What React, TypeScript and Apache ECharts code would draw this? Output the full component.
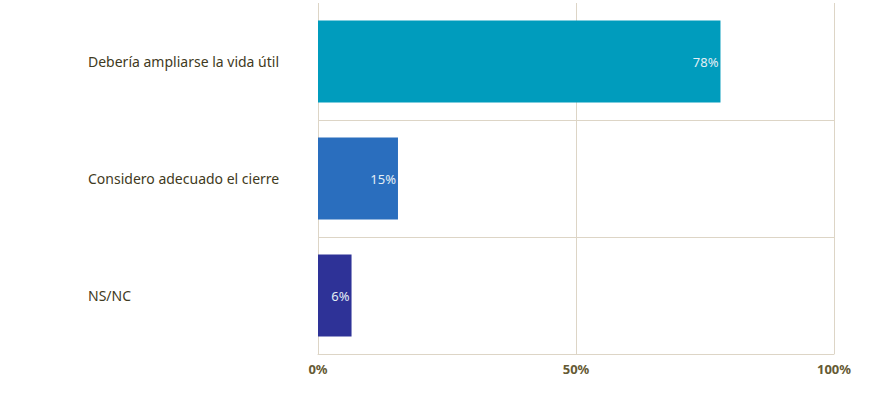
import React, { useEffect, useRef } from "react";
import * as echarts from "echarts";

const categories = [
  "Debería ampliarse la vida útil",
  "Considero adecuado el cierre",
  "NS/NC",
];
const values = [78, 15.5, 6.5];
const barColors = ["#009cbd", "#2a6ebe", "#2e3297"];
const xTicks = [0, 50, 100];

export default function App() {
  const ref = useRef<HTMLDivElement>(null);
  useEffect(() => {
    if (!ref.current) return;
    const chart = echarts.init(ref.current, null, { renderer: "svg" });
    const grid = "#ddd5c6";
    chart.setOption({
      animation: false,
      backgroundColor: "#ffffff",
      grid: { left: 318, right: 49, top: 3, bottom: 55, containLabel: false },
      xAxis: {
        type: "value",
        min: xTicks[0],
        max: xTicks[xTicks.length - 1],
        interval: xTicks[1] - xTicks[0],
        axisLine: { show: true, lineStyle: { color: grid, width: 1 } },
        axisTick: { show: false },
        splitLine: { show: true, lineStyle: { color: grid, width: 1 } },
        axisLabel: {
          formatter: "{value}%",
          color: "#655a34",
          fontFamily: "Noto Sans",
          fontSize: 13,
          fontWeight: "bold",
          margin: 8,
        },
      },
      yAxis: {
        type: "category",
        inverse: true,
        data: categories,
        axisLine: { show: false },
        axisTick: { show: false },
        splitLine: {
          show: true,
          interval: (index: number) => index !== 0,
          lineStyle: { color: grid, width: 1 },
        },
        axisLabel: {
          align: "left",
          margin: 230,
          color: "#3f3a22",
          fontFamily: "Noto Sans",
          fontSize: 14,
        },
      },
      series: [
        {
          type: "bar",
          data: values.map((v, i) => ({ value: v, itemStyle: { color: barColors[i] } })),
          barCategoryGap: "30%",
          label: {
            show: true,
            position: "insideRight",
            distance: 2,
            formatter: (p: any) => Math.floor(p.value) + "%",
            color: "#e3eef5",
            fontFamily: "Noto Sans",
            fontSize: 13,
          },
        },
      ],
    });
    return () => chart.dispose();
  }, []);
  return <div ref={ref} style={{ width: 883, height: 409, position: "absolute", left: 0, top: 0 }} />;
}
